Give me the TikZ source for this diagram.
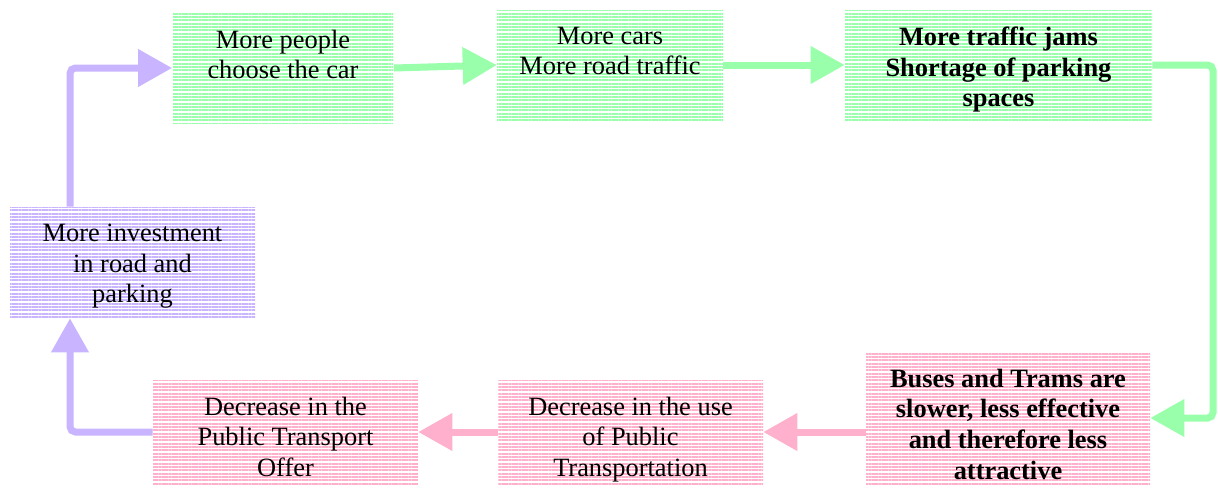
\documentclass[tikz,border=0pt]{standalone}
\usepackage{fontspec}
\setmainfont{Liberation Serif}
\usepackage{xcolor}
\usepackage{tikz}
\usetikzlibrary{arrows.meta, patterns.meta, calc}

\definecolor{cyclegreen}{RGB}{153,255,170}
\definecolor{cyclepink}{RGB}{255,176,204}
\definecolor{cycleviolet}{RGB}{200,180,255}

% text of a box: width, height, lines
\newcommand{\boxtext}[3]{\parbox[c][#2][t]{#1}{\centering\vspace*{12.75pt}#3}}

\begin{document}
\begin{tikzpicture}[
    x=0.75pt, y=-0.75pt,
    % styles
    stage/.style={
        rectangle, inner sep=0pt, draw=none,
        pattern={Lines[angle=0, distance=2.5pt, line width=1.3pt]},
        font=\fontsize{19.8pt}{23pt}\selectfont
    },
    car_stage/.style={stage, pattern color=cyclegreen},
    pt_stage/.style={stage, pattern color=cyclepink},
    road_stage/.style={stage, pattern color=cycleviolet},
    flow/.style={
        line width=5.25pt, rounded corners=4pt,
        -{Triangle[length=25.5pt, width=27pt]}
    }
]
    \useasboundingbox (0,0) rectangle (1218,487);

    % --- TOP ROW (car use) ---
    \node[car_stage] (people) at (283,68)
        {\boxtext{165pt}{82.5pt}{More people\\choose the car}};
    \node[car_stage] (cars) at (610,65)
        {\boxtext{169.5pt}{82.5pt}{More cars\\More road traffic}};
    \node[car_stage, font=\fontsize{19.8pt}{23pt}\selectfont\bfseries] (jams) at (998.5,65)
        {\boxtext{230.25pt}{82.5pt}{More traffic jams\\Shortage of parking\\spaces}};

    % --- BOTTOM ROW (public transport) ---
    \node[pt_stage, font=\fontsize{19.8pt}{23pt}\selectfont\bfseries] (buses) at (1008,418)
        {\boxtext{213pt}{99pt}{Buses and Trams are\\slower, less effective\\and therefore less\\attractive}};
    \node[pt_stage] (dec_use) at (630.5,432)
        {\boxtext{198.75pt}{78pt}{Decrease in the use\\of Public\\Transportation}};
    \node[pt_stage] (dec_offer) at (285.5,432)
        {\boxtext{198.75pt}{78pt}{Decrease in the\\Public Transport\\Offer}};

    % --- LEFT (road investment) ---
    \node[road_stage] (invest) at (132.5,262.5)
        {\boxtext{183.75pt}{83.25pt}{More investment\\in road and\\parking}};

    % rails for the bent arrows
    \coordinate (left_rail) at (70,0);
    \coordinate (right_rail) at (1213,0);

    % --- FLOWS ---
    \draw[flow, cyclegreen] (people.east) -- (cars.west);
    \draw[flow, cyclegreen] (cars.east) -- (jams.west);
    \draw[flow, cyclegreen] (jams.east) -- (jams.east -| right_rail) |- (buses.east);
    \draw[flow, cyclepink] (buses.west |- dec_use.east) -- (dec_use.east);
    \draw[flow, cyclepink] (dec_use.west) -- (dec_offer.east);
    \draw[flow, cycleviolet] (dec_offer.west) -| (invest.south -| left_rail);
    \draw[flow, cycleviolet] (invest.north -| left_rail) |- (people.west);

\end{tikzpicture}
\end{document}
